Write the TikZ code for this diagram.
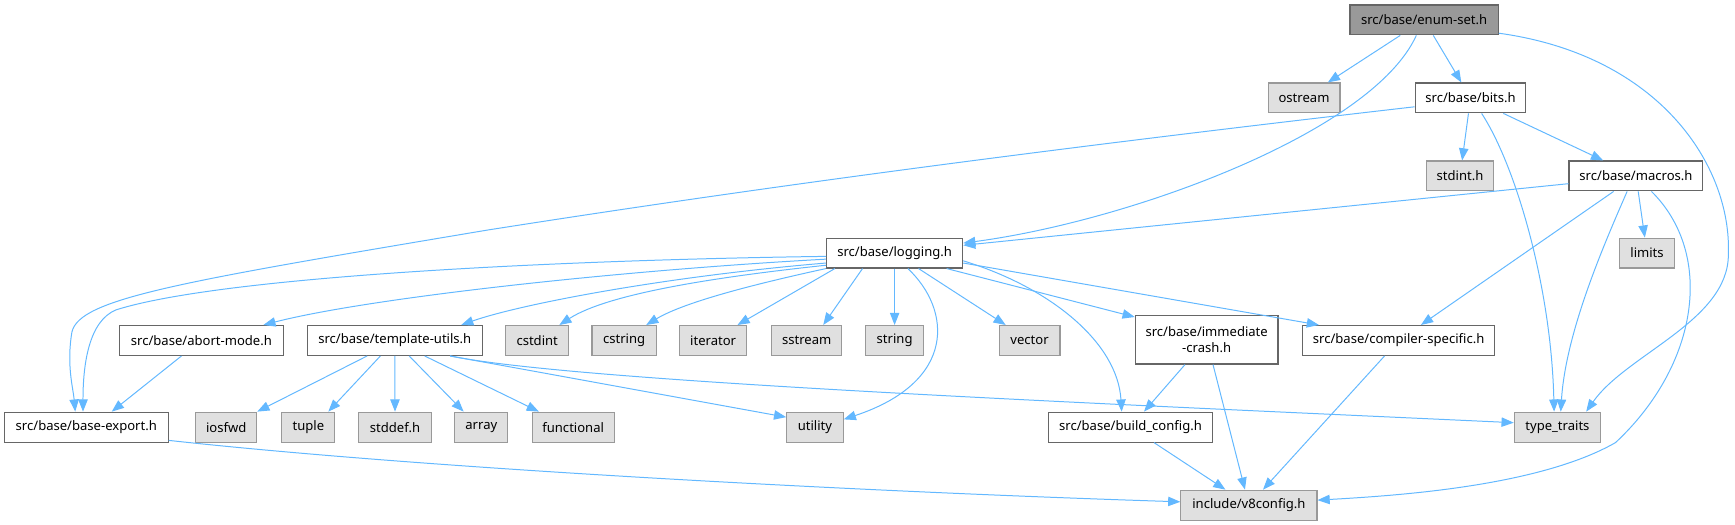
\documentclass[tikz,border=0pt]{standalone}
\usepackage{fontspec}
\setmainfont{Noto Sans}
\usetikzlibrary{arrows.meta}
\definecolor{edgec}{HTML}{63B8FF}
\definecolor{grayfill}{HTML}{E0E0E0}
\definecolor{grayline}{HTML}{999999}
\definecolor{darkline}{HTML}{666666}
\definecolor{mainfill}{HTML}{999999}
\tikzset{
  box/.style={draw=darkline, fill=white, line width=1pt, minimum height=27pt, inner sep=0pt,
    font=\fontsize{11.8}{14}\selectfont, text=black, align=center},
  sysbox/.style={box, draw=grayline, fill=grayfill},
  mainbox/.style={box, draw=darkline, fill=mainfill},
  dep/.style={draw=edgec, line width=0.9pt, -{Triangle[length=11pt,width=8.5pt]}}
}
\begin{document}
\begin{tikzpicture}[x=1pt,y=-1pt]
\useasboundingbox (0,0) rectangle (1568,474);
% nodes
\node[mainbox, minimum width=134pt] (enum) at (1287,18) {src/base/enum-set.h};
\node[sysbox, minimum width=65pt] (ostream) at (1178.5,88.5) {ostream};
\node[box, minimum width=100pt] (bits) at (1329,88.5) {src/base/bits.h};
\node[sysbox, minimum width=61pt] (stdint) at (1319.5,159) {stdint.h};
\node[box, minimum width=121pt] (macros) at (1478.5,159) {src/base/macros.h};
\node[sysbox, minimum width=49pt] (limits) at (1488.5,228.7) {limits};
\node[box, minimum width=123pt] (logging) at (808.5,228.7) {src/base/logging.h};
\node[box, minimum width=148pt] (abort) at (182,307.7) {src/base/abort-mode.h};
\node[box, minimum width=158pt] (template) at (356.8,307.7) {src/base/template-utils.h};
\node[sysbox, minimum width=57pt] (cstdint) at (485.5,307.7) {cstdint};
\node[sysbox, minimum width=58pt] (cstring) at (564,307.7) {cstring};
\node[sysbox, minimum width=61pt] (iterator) at (644.5,307.7) {iterator};
\node[sysbox, minimum width=63.5pt] (sstream) at (729,307.7) {sstream};
\node[sysbox, minimum width=52pt] (string) at (808.5,307.7) {string};
\node[sysbox, minimum width=55pt] (vector) at (930.5,307.7) {vector};
\node[box, minimum width=129pt, minimum height=44pt] (immediate) at (1090.5,307) {src/base/immediate\\-crash.h};
\node[box, minimum width=174pt] (compiler) at (1264,307.7) {src/base/compiler-specific.h};
\node[box, minimum width=148pt] (baseexport) at (78,386) {src/base/base-export.h};
\node[sysbox, minimum width=55pt] (iosfwd) at (204.5,386) {iosfwd};
\node[sysbox, minimum width=48pt] (tuple) at (278.7,386) {tuple};
\node[sysbox, minimum width=65.5pt] (stddef) at (357,386) {stddef.h};
\node[sysbox, minimum width=48pt] (array) at (435,386) {array};
\node[sysbox, minimum width=74pt] (functional) at (518,386) {functional};
\node[sysbox, minimum width=51pt] (utility) at (736.5,386) {utility};
\node[box, minimum width=147.5pt] (buildconfig) at (1021.7,386) {src/base/build\_config.h};
\node[sysbox, minimum width=78pt] (typetraits) at (1407.5,386) {type\_traits};
\node[sysbox, minimum width=123pt] (v8config) at (1128.7,456.5) {include/v8config.h};
% edges from enum-set
\draw[dep] (enum) -- (ostream);
\draw[dep] (enum) -- (bits);
\draw[dep] ([xshift=-7pt]enum.south) .. controls (1240,120) and (1020,200) .. ([yshift=9pt]logging.east);
\draw[dep] ([yshift=2pt]enum.south east) .. controls (1500,50) and (1565,150) .. (1562,230) .. controls (1562,290) and (1470,320) .. ([xshift=26pt]typetraits.north);
% edges from bits
\draw[dep] ([yshift=-8pt]bits.west) .. controls (900,140) and (650,175) .. (440,208) .. controls (160,255) and (72,270) .. (65,300) .. controls (60,330) and (66,350) .. ([xshift=-10pt]baseexport.north);
\draw[dep] (bits) -- (stdint);
\draw[dep] (bits) -- (macros);
\draw[dep] ([xshift=10pt]bits.south) .. controls (1370,150) and (1402,260) .. ([xshift=-3pt]typetraits.north);
% edges from macros
\draw[dep] ([yshift=-7pt]macros.west) -- ([yshift=7pt]logging.east);
\draw[dep] (macros) -- (limits);
\draw[dep] (macros) -- (compiler);
\draw[dep] ([xshift=-8pt]macros.south) .. controls (1450,220) and (1415,300) .. ([xshift=3pt]typetraits.north);
\draw[dep] ([xshift=14pt]macros.south) .. controls (1550,230) and (1535,330) .. (1460,400) .. controls (1390,440) and (1260,448) .. ([yshift=4.5pt]v8config.east);
% edges from logging
\draw[dep] ([yshift=-3pt]logging.west) .. controls (500,235) and (200,250) .. (105,280) .. controls (80,290) and (75,330) .. ([xshift=-3pt]baseexport.north);
\draw[dep] ([yshift=-5.5pt]logging.west) .. controls (550,245) and (330,270) .. ([xshift=56pt]abort.north);
\draw[dep] ([yshift=-9pt]logging.west) .. controls (600,250) and (470,275) .. ([xshift=60pt]template.north);
\draw[dep] ([yshift=-11pt]logging.west) .. controls (650,250) and (550,265) .. ([xshift=20pt]cstdint.north);
\draw[dep] (logging.south west) .. controls (690,255) and (620,272) .. ([xshift=20pt]cstring.north);
\draw[dep] ([xshift=8pt]logging.south west) -- ([xshift=22pt]iterator.north);
\draw[dep] ([xshift=33pt]logging.south west) -- ([xshift=15pt]sstream.north);
\draw[dep] (logging) -- (string);
\draw[dep] ([xshift=12pt]logging.south) .. controls (860,280) and (865,345) .. ([yshift=7pt]utility.east);
\draw[dep] (logging) -- (vector);
\draw[dep] ([xshift=-15pt]logging.south east) -- ([yshift=-2pt]immediate.north west);
\draw[dep] ([yshift=-9pt]logging.east) -- ([xshift=-72pt]compiler.north);
\draw[dep] ([yshift=-7pt]logging.east) .. controls (950,260) and (1010,310) .. ([xshift=-8pt]buildconfig.north);
% edges from abort-mode
\draw[dep] ([xshift=-18pt]abort.south) -- ([xshift=23pt]baseexport.north);
% edges from template-utils
\draw[dep] ([xshift=-25pt]template.south) -- (iosfwd.north east);
\draw[dep] ([xshift=-13pt]template.south) -- ([xshift=18pt]tuple.north);
\draw[dep] (template.south) -- (stddef.north);
\draw[dep] ([xshift=13pt]template.south) -- ([xshift=-16pt]array.north);
\draw[dep] ([xshift=27pt]template.south) -- ([xshift=-31pt]functional.north);
\draw[dep] ([xshift=50pt]template.south) -- ([yshift=9pt]utility.west);
\draw[dep] ([xshift=50pt]template.south) .. controls (520,345) and (1000,365) .. ([yshift=4pt]typetraits.west);
% edges to v8config
\draw[dep] (immediate) -- (buildconfig);
\draw[dep] (immediate) -- (v8config);
\draw[dep] (compiler) -- (v8config);
\draw[dep] (buildconfig) -- (v8config);
\draw[dep] ([yshift=2pt]baseexport.south east) .. controls (400,425) and (800,445) .. ([yshift=3pt]v8config.west);
\end{tikzpicture}
\end{document}
